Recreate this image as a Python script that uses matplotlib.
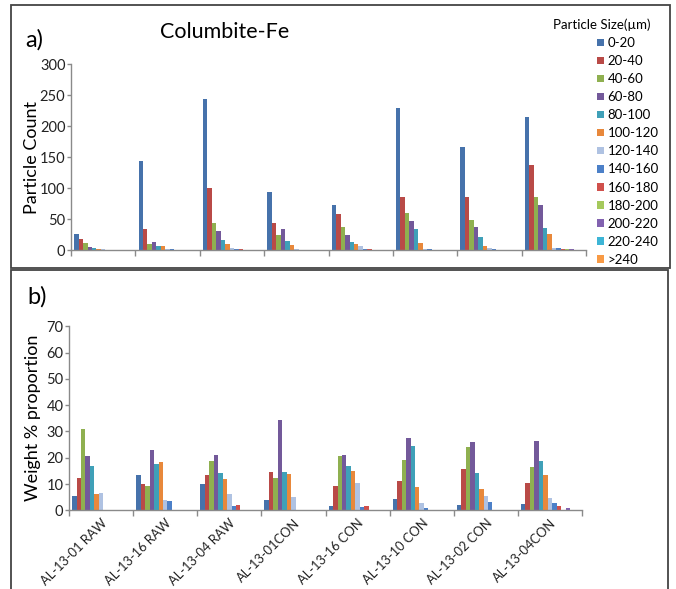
import matplotlib
matplotlib.use('Agg')
import matplotlib.pyplot as plt
from matplotlib.patches import Rectangle, Patch
import numpy as np

# Size classes (µm) and samples
size_classes = ['0-20', '20-40', '40-60', '60-80', '80-100', '100-120', '120-140',
                '140-160', '160-180', '180-200', '200-220', '220-240', '>240']
samples = ['AL-13-01 RAW', 'AL-13-16 RAW', 'AL-13-04 RAW', 'AL-13-01CON',
           'AL-13-16 CON', 'AL-13-10 CON', 'AL-13-02 CON', 'AL-13-04CON']

# a) particle counts, one row per sample, one value per size class
counts = [
    [26, 17, 11, 5, 3, 1, 1, 0.5, 0, 0, 0, 0, 0],
    [144, 34, 10, 13, 6, 6, 1, 1, 0, 0, 0, 0, 0],
    [244, 100, 44, 30, 16, 9, 4, 1, 1, 0, 0, 0, 0],
    [94, 44, 25, 34, 14, 8, 2, 0, 0, 0, 0, 0, 0],
    [72, 58, 37, 24, 13, 10, 6, 2, 1, 0, 0, 0, 0],
    [230, 85, 60, 47, 34, 11, 2, 1, 0, 0, 0, 0, 0],
    [166, 85, 49, 37, 21, 7, 3, 2, 0, 0, 0, 0, 0],
    [215, 138, 86, 72, 36, 26, 4, 3, 2, 1, 1, 0, 0],
]

# b) weight % proportion
weight_pct = [
    [5.5, 12.3, 31.0, 20.5, 16.7, 6.1, 6.6, 0, 0, 0, 0, 0, 0],
    [13.5, 10.0, 9.1, 22.9, 17.8, 18.3, 4.1, 3.5, 0, 0, 0, 0, 0],
    [10.0, 13.4, 18.9, 20.9, 14.3, 12.0, 6.2, 1.5, 2.1, 0, 0, 0, 0],
    [3.9, 14.4, 12.4, 34.4, 14.7, 13.7, 5.2, 0, 0, 0, 0, 0, 0],
    [1.8, 9.4, 20.7, 20.9, 17.0, 14.8, 10.5, 1.4, 1.8, 0, 0, 0, 0],
    [4.2, 11.3, 19.3, 27.5, 24.3, 9.0, 2.8, 0.8, 0, 0, 0, 0, 0],
    [1.9, 15.7, 24.0, 26.0, 14.2, 8.2, 5.6, 3.2, 0, 0, 0, 0, 0],
    [2.5, 10.3, 16.5, 26.5, 18.6, 13.3, 4.8, 2.7, 1.8, 0, 0.8, 0, 0],
]

colors = ['#4672AB', '#B94A47', '#8FB050', '#73599A', '#3FA0B8', '#E8883B', '#AFC2E2',
          '#4C80C8', '#D0504C', '#A5C95C', '#8262B0', '#3DB5D6', '#F89A45']

plt.rcParams['font.family'] = ['Lato', 'DejaVu Sans']
axis_grey = '#8a8a8a'

fig = plt.figure(figsize=(6.76, 5.89), dpi=100)
W, H = 676, 589


def px_axes(x0, y0, x1, y1):
    # axes from pixel box (top-left origin)
    return fig.add_axes([x0 / W, 1 - y1 / H, (x1 - x0) / W, (y1 - y0) / H])


def grouped_bars(ax, data):
    data = np.array(data)
    n_grp, n_ser = data.shape
    w = 1.0 / (n_ser + 1.4)
    start = 0.7 * w
    for j in range(n_ser):
        x = np.arange(n_grp) + start + (j + 0.5) * w
        ax.bar(x, data[:, j], width=w, color=colors[j], linewidth=0, label=size_classes[j])
    ax.set_xlim(0, n_grp)
    ax.set_xticks(np.arange(n_grp + 1))
    ax.set_xticklabels([])
    for s in ['top', 'right']:
        ax.spines[s].set_visible(False)
    for s in ['left', 'bottom']:
        ax.spines[s].set_color(axis_grey)
        ax.spines[s].set_linewidth(1.0)
    ax.tick_params(axis='both', colors=axis_grey, labelcolor='#222222', length=4,
                   width=1.0, labelsize=10.5, pad=1)
    ax.tick_params(axis='y', length=3)


# frames around both panels
fig.patches.append(Rectangle((11 / W, 1 - 268 / H), 659 / W, 263 / H, transform=fig.transFigure,
                             fill=False, edgecolor='#444444', linewidth=1.3))
fig.patches.append(Rectangle((11 / W, 1 - 592 / H), 657 / W, 322 / H, transform=fig.transFigure,
                             fill=False, edgecolor='#444444', linewidth=1.3))

# a) particle count
ax1 = px_axes(71, 64.3, 586, 250)
grouped_bars(ax1, counts)
ax1.set_ylim(0, 300)
ax1.set_yticks(range(0, 301, 50))
ax1.set_ylabel('Particle Count', fontsize=13, labelpad=0)
fig.text(25 / W, 1 - 40 / H, 'a)', fontsize=17, va='center', ha='left')
fig.text(225 / W, 1 - 32 / H, 'Columbite-Fe', fontsize=15.5, va='center', ha='center')

handles = [Patch(facecolor=c, edgecolor='none') for c in colors]
fig.text(602 / W, 1 - 25 / H, 'Particle Size(µm)', fontsize=9.5, va='center', ha='center')
fig.legend(handles, size_classes, loc='upper left', bbox_to_anchor=(597 / W, 1 - 37 / H),
           frameon=False, fontsize=9.5, handlelength=0.5, handleheight=0.5,
           handletextpad=0.3, labelspacing=0.46, borderpad=0, borderaxespad=0)

# b) weight % proportion
ax2 = px_axes(69, 326.3, 582, 510.3)
grouped_bars(ax2, weight_pct)
ax2.set_ylim(0, 70)
ax2.set_yticks(range(0, 71, 10))
ax2.set_ylabel('Weight % proportion', fontsize=13, labelpad=4)
for i, name in enumerate(samples):
    ax2.text(i + 0.5, -2.6, name, rotation=45, ha='right', va='top',
             rotation_mode='anchor', fontsize=9.3, color='#222222')
fig.text(27 / W, 1 - 297 / H, 'b)', fontsize=17, va='center', ha='left')

fig.savefig('out.png', dpi=100)
